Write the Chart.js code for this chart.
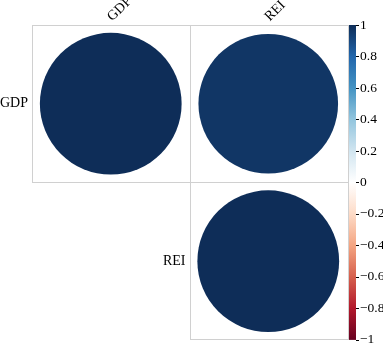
<!DOCTYPE html>
<html>
<head>
<meta charset="utf-8">
<script src="https://cdn.jsdelivr.net/npm/chart.js@4.4.1/dist/chart.umd.min.js"></script>
<style>
  html, body { margin: 0; padding: 0; background: #fff; }
  #wrap { width: 383px; height: 349px; }
</style>
</head>
<body>
<div id="wrap"><canvas id="corr" width="383" height="349"></canvas></div>
<script>
// variables and their correlation matrix
const varNames = ['GDP', 'REI'];
const corrMatrix = [
  [1, 0.97],
  [0.97, 1]
];
// colour legend ticks
const legendTicks = [1, 0.8, 0.6, 0.4, 0.2, 0, -0.2, -0.4, -0.6, -0.8, -1];
// RdBu ramp, from -1 to 1
const palette = ['#67001F', '#B2182B', '#D6604D', '#F4A582', '#FDDBC7', '#FFFFFF',
                 '#D1E5F0', '#92C5DE', '#4393C3', '#2166AC', '#0E2D58'];

const SERIF = '"Liberation Serif", "DejaVu Serif", serif';
const GRID = '#D0D0D0';

function hexToRgb(h) {
  const n = parseInt(h.slice(1), 16);
  return [(n >> 16) & 255, (n >> 8) & 255, n & 255];
}

function colorFor(v) {
  const t = (v + 1) / 2 * (palette.length - 1);
  const i = Math.min(palette.length - 2, Math.floor(t));
  const f = t - i;
  const a = hexToRgb(palette[i]), b = hexToRgb(palette[i + 1]);
  const c = a.map((x, k) => Math.round(x + (b[k] - x) * f));
  return 'rgb(' + c.join(',') + ')';
}

// upper triangle points (col = x, row = y)
const points = [];
for (let r = 0; r < varNames.length; r++) {
  for (let c = r; c < varNames.length; c++) {
    points.push({ x: c + 1, y: r + 1, v: corrMatrix[r][c] });
  }
}

function circleRadius(ctx) {
  const x = ctx.chart.scales.x;
  const cell = Math.abs(x.getPixelForValue(1) - x.getPixelForValue(0));
  const v = ctx.raw ? ctx.raw.v : 1;
  return 0.45 * Math.sqrt(Math.abs(v)) * cell;
}

const corrPlugin = {
  id: 'corrPlugin',
  beforeDatasetsDraw(chart) {
    const { ctx, scales: { x, y } } = chart;
    ctx.save();
    ctx.strokeStyle = GRID;
    ctx.lineWidth = 1;
    points.forEach(p => {
      const x0 = x.getPixelForValue(p.x - 0.5), x1 = x.getPixelForValue(p.x + 0.5);
      const y0 = y.getPixelForValue(p.y - 0.5), y1 = y.getPixelForValue(p.y + 0.5);
      ctx.strokeRect(Math.round(x0) + 0.5, Math.round(y0) + 0.5, Math.round(x1 - x0), Math.round(y1 - y0));
    });
    ctx.restore();
  },
  afterDraw(chart) {
    const { ctx, scales: { x, y, cb } } = chart;
    ctx.save();
    ctx.fillStyle = '#000';
    ctx.font = '14px ' + SERIF;

    // row labels, beside the diagonal
    ctx.textAlign = 'right';
    ctx.textBaseline = 'middle';
    varNames.forEach((name, i) => {
      ctx.fillText(name, x.getPixelForValue(i + 0.5) - 4, y.getPixelForValue(i + 1));
    });

    // column labels, rotated on top
    varNames.forEach((name, i) => {
      ctx.save();
      ctx.translate(x.getPixelForValue(i + 1) - 1, y.getPixelForValue(0.5) - 6);
      ctx.rotate(-Math.PI / 4);
      ctx.textAlign = 'left';
      ctx.textBaseline = 'middle';
      ctx.fillText(name, 0, 0);
      ctx.restore();
    });

    // colour bar
    const bx = cb.left + 2, bw = 7;
    const top = cb.getPixelForValue(1), bottom = cb.getPixelForValue(-1);
    const grad = ctx.createLinearGradient(0, bottom, 0, top);
    palette.forEach((col, i) => grad.addColorStop(i / (palette.length - 1), col));
    ctx.fillStyle = grad;
    ctx.fillRect(bx, top, bw, bottom - top);
    ctx.strokeStyle = '#000';
    ctx.lineWidth = 1;
    legendTicks.forEach(t => {
      const py = Math.round(cb.getPixelForValue(t)) + 0.5;
      ctx.beginPath();
      ctx.moveTo(bx + bw, py);
      ctx.lineTo(bx + bw + 3, py);
      ctx.stroke();
    });
    ctx.restore();
  }
};

new Chart(document.getElementById('corr'), {
  type: 'scatter',
  data: {
    datasets: [{
      data: points,
      pointRadius: circleRadius,
      pointHoverRadius: circleRadius,
      pointBackgroundColor: ctx => colorFor(ctx.raw ? ctx.raw.v : 1),
      pointBorderWidth: 0,
      pointBorderColor: 'transparent'
    }]
  },
  options: {
    responsive: false,
    animation: false,
    events: [],
    layout: { padding: { left: 32, top: 25, right: 0, bottom: 9 } },
    plugins: { legend: { display: false }, tooltip: { enabled: false } },
    scales: {
      x: { type: 'linear', min: 0.5, max: varNames.length + 0.5, display: false },
      y: { type: 'linear', min: 0.5, max: varNames.length + 0.5, reverse: true, display: false },
      cb: {
        type: 'linear',
        position: 'right',
        min: -1,
        max: 1,
        afterBuildTicks: s => { s.ticks = legendTicks.map(v => ({ value: v })); },
        afterFit: s => { s.width = 36; },
        grid: { display: false, drawTicks: true, tickLength: 12 },
        border: { display: false },
        ticks: {
          padding: 1,
          color: '#000',
          font: { family: SERIF, size: 13.5 },
          callback: v => (v < 0 ? '\u2212' : '') + String(Math.abs(Math.round(v * 10) / 10))
        }
      }
    }
  },
  plugins: [corrPlugin]
});
</script>
</body>
</html>
